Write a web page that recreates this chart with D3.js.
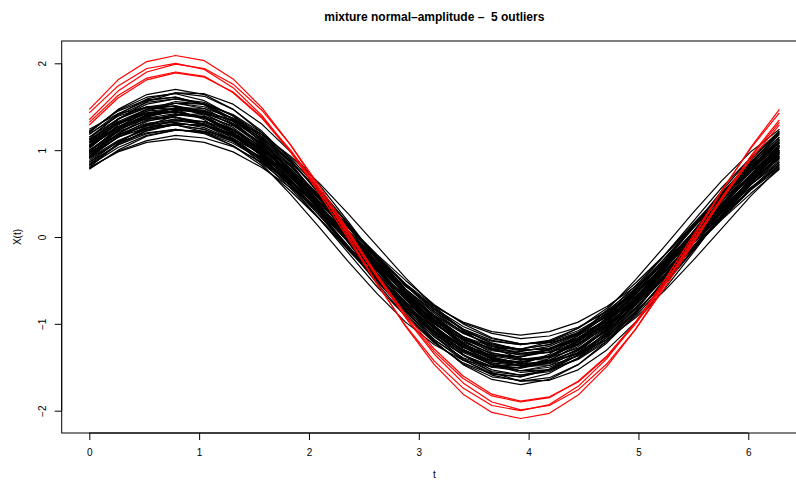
<!DOCTYPE html>
<html>
<head>
<meta charset="utf-8">
<script src="https://cdn.jsdelivr.net/npm/d3@7"></script>
<style>
  html, body { margin: 0; padding: 0; background: #ffffff; }
  svg { display: block; }
  text { font-family: "Liberation Sans", Arial, Helvetica, sans-serif; fill: #000; }
</style>
</head>
<body>
<svg id="chart" width="796" height="480"></svg>
<script>
// Sampling grid (25 points over one period)
const tGrid = [0, 0.2618, 0.5236, 0.7854, 1.0472, 1.3090, 1.5708, 1.8326, 2.0944, 2.3562, 2.6180, 2.8798,
  3.1416, 3.4034, 3.6652, 3.9270, 4.1888, 4.4506, 4.7124, 4.9742, 5.2360, 5.4978, 5.7596, 6.0214, 6.2832];

// Regular curves
const regularCurves = [
  [1.20,1.47,1.64,1.70,1.64,1.47,1.20,0.85,0.44,0,-0.44,-0.85,-1.20,-1.47,-1.64,-1.70,-1.64,-1.47,-1.20,-0.85,-0.44,0,0.44,0.85,1.20],
  [0.80,0.98,1.09,1.13,1.09,0.98,0.80,0.57,0.29,0,-0.29,-0.57,-0.80,-0.98,-1.09,-1.13,-1.09,-0.98,-0.80,-0.57,-0.29,0,0.29,0.57,0.80],
  [1.10,1.36,1.53,1.59,1.55,1.40,1.15,0.83,0.45,0.04,-0.38,-0.76,-1.10,-1.36,-1.53,-1.59,-1.55,-1.40,-1.15,-0.83,-0.45,-0.04,0.38,0.76,1.10],
  [1.22,1.45,1.58,1.61,1.52,1.33,1.05,0.70,0.30,-0.12,-0.53,-0.91,-1.22,-1.45,-1.58,-1.61,-1.52,-1.33,-1.05,-0.70,-0.30,0.12,0.53,0.91,1.22],
  [1.00,1.21,1.34,1.38,1.32,1.18,0.95,0.66,0.32,-0.04,-0.39,-0.72,-1.00,-1.21,-1.34,-1.38,-1.32,-1.18,-0.95,-0.66,-0.32,0.04,0.39,0.72,1.00],
  [0.92,1.15,1.30,1.36,1.33,1.20,1.00,0.73,0.41,0.06,-0.30,-0.63,-0.92,-1.15,-1.30,-1.36,-1.33,-1.20,-1.00,-0.73,-0.41,-0.06,0.30,0.63,0.92],
  [0.98,1.23,1.39,1.46,1.43,1.30,1.08,0.79,0.45,0.07,-0.31,-0.67,-0.98,-1.23,-1.39,-1.46,-1.43,-1.30,-1.08,-0.79,-0.45,-0.07,0.31,0.67,0.98],
  [1.05,1.25,1.36,1.38,1.30,1.14,0.90,0.60,0.25,-0.11,-0.46,-0.78,-1.05,-1.25,-1.36,-1.38,-1.30,-1.14,-0.90,-0.60,-0.25,0.11,0.46,0.78,1.05],
  [0.80,1.08,1.28,1.40,1.42,1.35,1.18,0.93,0.62,0.27,-0.10,-0.47,-0.80,-1.08,-1.28,-1.40,-1.42,-1.35,-1.18,-0.93,-0.62,-0.27,0.10,0.47,0.80],
  [0.95,1.15,1.26,1.29,1.24,1.10,0.88,0.60,0.29,-0.05,-0.38,-0.69,-0.95,-1.15,-1.26,-1.29,-1.24,-1.10,-0.88,-0.60,-0.29,0.05,0.38,0.69,0.95],
  [1.08,1.31,1.45,1.48,1.42,1.26,1.02,0.71,0.34,-0.04,-0.43,-0.78,-1.08,-1.31,-1.45,-1.48,-1.42,-1.26,-1.02,-0.71,-0.34,0.04,0.43,0.78,1.08],
  [0.88,1.10,1.25,1.31,1.28,1.16,0.97,0.71,0.40,0.06,-0.28,-0.60,-0.88,-1.10,-1.25,-1.31,-1.28,-1.16,-0.97,-0.71,-0.40,-0.06,0.28,0.60,0.88],
  [1.15,1.40,1.55,1.59,1.53,1.36,1.10,0.76,0.38,-0.04,-0.45,-0.83,-1.15,-1.40,-1.55,-1.59,-1.53,-1.36,-1.10,-0.76,-0.38,0.04,0.45,0.83,1.15],
  [1.12,1.32,1.43,1.45,1.37,1.19,0.93,0.61,0.25,-0.13,-0.50,-0.84,-1.12,-1.32,-1.43,-1.45,-1.37,-1.19,-0.93,-0.61,-0.25,0.13,0.50,0.84,1.12],
  [1.02,1.29,1.47,1.56,1.53,1.40,1.18,0.88,0.51,0.11,-0.29,-0.68,-1.02,-1.29,-1.47,-1.56,-1.53,-1.40,-1.18,-0.88,-0.51,-0.11,0.29,0.68,1.02],
  [0.90,1.09,1.20,1.24,1.19,1.05,0.85,0.59,0.29,-0.04,-0.35,-0.65,-0.90,-1.09,-1.20,-1.24,-1.19,-1.05,-0.85,-0.59,-0.29,0.04,0.35,0.65,0.90],
  [0.96,1.19,1.35,1.41,1.37,1.24,1.03,0.75,0.41,0.05,-0.32,-0.66,-0.96,-1.19,-1.35,-1.41,-1.37,-1.24,-1.03,-0.75,-0.41,-0.05,0.32,0.66,0.96],
  [1.04,1.26,1.40,1.44,1.38,1.23,0.99,0.69,0.34,-0.04,-0.41,-0.75,-1.04,-1.26,-1.40,-1.44,-1.38,-1.23,-0.99,-0.69,-0.34,0.04,0.41,0.75,1.04],
  [0.93,1.19,1.38,1.46,1.45,1.34,1.14,0.86,0.52,0.15,-0.24,-0.60,-0.93,-1.19,-1.38,-1.46,-1.45,-1.34,-1.14,-0.86,-0.52,-0.15,0.24,0.60,0.93],
  [0.82,1.03,1.17,1.23,1.21,1.10,0.92,0.68,0.39,0.07,-0.25,-0.55,-0.82,-1.03,-1.17,-1.23,-1.21,-1.10,-0.92,-0.68,-0.39,-0.07,0.25,0.55,0.82],
  [1.12,1.36,1.50,1.54,1.48,1.31,1.06,0.73,0.36,-0.04,-0.44,-0.81,-1.12,-1.36,-1.50,-1.54,-1.48,-1.31,-1.06,-0.73,-0.36,0.04,0.44,0.81,1.12],
  [1.08,1.27,1.37,1.38,1.29,1.12,0.87,0.56,0.21,-0.15,-0.50,-0.82,-1.08,-1.27,-1.37,-1.38,-1.29,-1.12,-0.87,-0.56,-0.21,0.15,0.50,0.82,1.08],
  [1.05,1.35,1.56,1.66,1.65,1.53,1.30,0.98,0.60,0.18,-0.26,-0.68,-1.05,-1.35,-1.56,-1.66,-1.65,-1.53,-1.30,-0.98,-0.60,-0.18,0.26,0.68,1.05],
  [0.78,1.00,1.16,1.23,1.22,1.13,0.96,0.73,0.44,0.13,-0.20,-0.50,-0.78,-1.00,-1.16,-1.23,-1.22,-1.13,-0.96,-0.73,-0.44,-0.13,0.20,0.50,0.78],
  [1.00,1.23,1.37,1.42,1.37,1.23,1.01,0.72,0.37,0.01,-0.36,-0.70,-1.00,-1.23,-1.37,-1.42,-1.37,-1.23,-1.01,-0.72,-0.37,-0.01,0.36,0.70,1.00],
  [1.18,1.42,1.57,1.61,1.53,1.36,1.09,0.75,0.35,-0.06,-0.48,-0.86,-1.18,-1.42,-1.57,-1.61,-1.53,-1.36,-1.09,-0.75,-0.35,0.06,0.48,0.86,1.18],
  [0.97,1.18,1.31,1.35,1.30,1.16,0.94,0.66,0.33,-0.02,-0.37,-0.69,-0.97,-1.18,-1.31,-1.35,-1.30,-1.16,-0.94,-0.66,-0.33,0.02,0.37,0.69,0.97],
  [1.05,1.31,1.47,1.54,1.50,1.36,1.13,0.82,0.45,0.06,-0.34,-0.72,-1.05,-1.31,-1.47,-1.54,-1.50,-1.36,-1.13,-0.82,-0.45,-0.06,0.34,0.72,1.05],
  [1.00,1.18,1.28,1.29,1.21,1.05,0.82,0.53,0.21,-0.13,-0.46,-0.75,-1.00,-1.18,-1.28,-1.29,-1.21,-1.05,-0.82,-0.53,-0.21,0.13,0.46,0.75,1.00],
  [0.86,1.10,1.26,1.34,1.33,1.23,1.04,0.78,0.47,0.13,-0.22,-0.56,-0.86,-1.10,-1.26,-1.34,-1.33,-1.23,-1.04,-0.78,-0.47,-0.13,0.22,0.56,0.86],
  [1.15,1.36,1.49,1.51,1.42,1.24,0.98,0.65,0.27,-0.12,-0.51,-0.86,-1.15,-1.36,-1.49,-1.51,-1.42,-1.24,-0.98,-0.65,-0.27,0.12,0.51,0.86,1.15],
  [0.95,1.22,1.40,1.49,1.48,1.37,1.16,0.87,0.53,0.15,-0.24,-0.62,-0.95,-1.22,-1.40,-1.49,-1.48,-1.37,-1.16,-0.87,-0.53,-0.15,0.24,0.62,0.95],
  [0.91,1.11,1.24,1.29,1.24,1.11,0.91,0.64,0.33,0,-0.33,-0.64,-0.91,-1.11,-1.24,-1.29,-1.24,-1.11,-0.91,-0.64,-0.33,0,0.33,0.64,0.91],
  [1.03,1.27,1.43,1.48,1.44,1.30,1.07,0.77,0.41,0.03,-0.36,-0.72,-1.03,-1.27,-1.43,-1.48,-1.44,-1.30,-1.07,-0.77,-0.41,-0.03,0.36,0.72,1.03],
  [1.24,1.42,1.49,1.47,1.35,1.13,0.84,0.49,0.11,-0.28,-0.65,-0.98,-1.24,-1.42,-1.49,-1.47,-1.35,-1.13,-0.84,-0.49,-0.11,0.28,0.65,0.98,1.24],
  [0.86,1.06,1.19,1.24,1.20,1.08,0.89,0.64,0.34,0.02,-0.30,-0.60,-0.86,-1.06,-1.19,-1.24,-1.20,-1.08,-0.89,-0.64,-0.34,-0.02,0.30,0.60,0.86],
  [0.99,1.24,1.41,1.48,1.46,1.33,1.11,0.82,0.47,0.08,-0.30,-0.67,-0.99,-1.24,-1.41,-1.48,-1.46,-1.33,-1.11,-0.82,-0.47,-0.08,0.30,0.67,0.99],
  [1.13,1.41,1.59,1.66,1.62,1.47,1.22,0.89,0.49,0.06,-0.37,-0.78,-1.13,-1.41,-1.59,-1.66,-1.62,-1.47,-1.22,-0.89,-0.49,-0.06,0.37,0.78,1.13],
  [0.84,1.07,1.23,1.30,1.29,1.18,1.00,0.75,0.45,0.11,-0.23,-0.55,-0.84,-1.07,-1.23,-1.30,-1.29,-1.18,-1.00,-0.75,-0.45,-0.11,0.23,0.55,0.84],
  [1.09,1.30,1.42,1.44,1.37,1.20,0.95,0.64,0.28,-0.10,-0.47,-0.81,-1.09,-1.30,-1.42,-1.44,-1.37,-1.20,-0.95,-0.64,-0.28,0.10,0.47,0.81,1.09],
  [0.79,0.99,1.11,1.17,1.14,1.04,0.86,0.63,0.35,0.05,-0.25,-0.54,-0.79,-0.99,-1.11,-1.17,-1.14,-1.04,-0.86,-0.63,-0.35,-0.05,0.25,0.54,0.79],
  [0.83,1.06,1.22,1.30,1.29,1.19,1.01,0.76,0.46,0.13,-0.21,-0.54,-0.83,-1.06,-1.22,-1.30,-1.29,-1.19,-1.01,-0.76,-0.46,-0.13,0.21,0.54,0.83],
  [1.19,1.39,1.50,1.50,1.40,1.21,0.93,0.59,0.21,-0.18,-0.57,-0.91,-1.19,-1.39,-1.50,-1.50,-1.40,-1.21,-0.93,-0.59,-0.21,0.18,0.57,0.91,1.19],
  [1.21,1.46,1.61,1.65,1.57,1.39,1.12,0.77,0.36,-0.06,-0.49,-0.88,-1.21,-1.46,-1.61,-1.65,-1.57,-1.39,-1.12,-0.77,-0.36,0.06,0.49,0.88,1.21],
  [0.91,1.16,1.33,1.41,1.39,1.28,1.08,0.81,0.48,0.12,-0.25,-0.60,-0.91,-1.16,-1.33,-1.41,-1.39,-1.28,-1.08,-0.81,-0.48,-0.12,0.25,0.60,0.91],
  [1.06,1.27,1.40,1.44,1.37,1.21,0.97,0.66,0.31,-0.06,-0.43,-0.77,-1.06,-1.27,-1.40,-1.44,-1.37,-1.21,-0.97,-0.66,-0.31,0.06,0.43,0.77,1.06],
  [0.98,1.26,1.45,1.54,1.53,1.41,1.20,0.91,0.55,0.16,-0.25,-0.64,-0.98,-1.26,-1.45,-1.54,-1.53,-1.41,-1.20,-0.91,-0.55,-0.16,0.25,0.64,0.98],
  [0.97,1.17,1.29,1.32,1.26,1.12,0.90,0.62,0.29,-0.05,-0.39,-0.70,-0.97,-1.17,-1.29,-1.32,-1.26,-1.12,-0.90,-0.62,-0.29,0.05,0.39,0.70,0.97],
  [1.10,1.33,1.47,1.51,1.45,1.29,1.04,0.72,0.35,-0.04,-0.43,-0.79,-1.10,-1.33,-1.47,-1.51,-1.45,-1.29,-1.04,-0.72,-0.35,0.04,0.43,0.79,1.10],
  [0.93,1.15,1.29,1.34,1.30,1.17,0.96,0.69,0.37,0.02,-0.33,-0.65,-0.93,-1.15,-1.29,-1.34,-1.30,-1.17,-0.96,-0.69,-0.37,-0.02,0.33,0.65,0.93]
];

// Amplitude outliers
const outlierCurves = [
  [1.47,1.81,2.02,2.09,2.03,1.82,1.49,1.06,0.56,0.01,-0.53,-1.03,-1.47,-1.81,-2.02,-2.09,-2.03,-1.82,-1.49,-1.06,-0.56,-0.01,0.53,1.03,1.47],
  [1.43,1.74,1.94,2.00,1.93,1.72,1.40,0.98,0.50,-0.02,-0.54,-1.02,-1.43,-1.74,-1.94,-2.00,-1.93,-1.72,-1.40,-0.98,-0.50,0.02,0.54,1.02,1.43],
  [1.35,1.68,1.90,1.99,1.94,1.76,1.46,1.06,0.59,0.08,-0.44,-0.93,-1.35,-1.68,-1.90,-1.99,-1.94,-1.76,-1.46,-1.06,-0.59,-0.08,0.44,0.93,1.35],
  [1.32,1.63,1.83,1.90,1.85,1.66,1.37,0.98,0.53,0.04,-0.46,-0.92,-1.32,-1.63,-1.83,-1.90,-1.85,-1.66,-1.37,-0.98,-0.53,-0.04,0.46,0.92,1.32],
  [1.29,1.60,1.81,1.89,1.84,1.67,1.38,1.00,0.55,0.06,-0.43,-0.89,-1.29,-1.60,-1.81,-1.89,-1.84,-1.67,-1.38,-1.00,-0.55,-0.06,0.43,0.89,1.29]
];

const xTicks = [0, 1, 2, 3, 4, 5, 6];
const yTicks = [-2, -1, 0, 1, 2];
const titleText = "mixture normal\u2013amplitude \u2013  5 outliers";
const xLabel = "t";
const yLabel = "X(t)";

const svg = d3.select("#chart");

// Plot region (extends 4% past the data range on each side, R style)
const xDomain = [-0.2513, 6.5345];
const yDomain = [-2.257, 2.257];
const x = d3.scaleLinear().domain(xDomain).range([61.7, 807]);
const y = d3.scaleLinear().domain(yDomain).range([433, 41]);

const line = d3.line()
  .x((d, i) => x(tGrid[i]))
  .y(d => y(d));

const curves = svg.append("g").attr("fill", "none").attr("stroke-width", 1.2).attr("stroke-linejoin", "round");

curves.selectAll("path.regular")
  .data(regularCurves)
  .join("path")
  .attr("class", "regular")
  .attr("stroke", "#000000")
  .attr("d", line);

curves.selectAll("path.outlier")
  .data(outlierCurves)
  .join("path")
  .attr("class", "outlier")
  .attr("stroke", "#ff0000")
  .attr("d", line);

// Plot box
svg.append("rect")
  .attr("x", x(xDomain[0]))
  .attr("y", y(yDomain[1]))
  .attr("width", x(xDomain[1]) - x(xDomain[0]))
  .attr("height", y(yDomain[0]) - y(yDomain[1]))
  .attr("fill", "none")
  .attr("stroke", "#000")
  .attr("stroke-width", 1);

// Bottom axis
const xAxis = d3.axisBottom(x).tickValues(xTicks).tickFormat(d3.format("d")).tickSize(7).tickPadding(9);
const gx = svg.append("g").attr("transform", `translate(0,${y(yDomain[0])})`).call(xAxis);
gx.select(".domain").attr("d", `M${x(xTicks[0])},0H${x(xTicks[xTicks.length - 1])}`).attr("stroke", "#000");
gx.selectAll(".tick line").attr("stroke", "#000");
gx.selectAll(".tick text")
  .style("font-family", "'Liberation Sans', Arial, sans-serif")
  .style("font-size", "10px")
  .attr("fill", "#000");

// Left axis with rotated labels
const yAxis = d3.axisLeft(y).tickValues(yTicks).tickFormat(d3.format("d")).tickSize(7).tickPadding(0);
const gy = svg.append("g").attr("transform", `translate(${x(xDomain[0])},0)`).call(yAxis);
gy.select(".domain").attr("d", `M0,${y(yTicks[0])}V${y(yTicks[yTicks.length - 1])}`).attr("stroke", "#000");
gy.selectAll(".tick line").attr("stroke", "#000");
gy.selectAll(".tick text")
  .style("font-family", "'Liberation Sans', Arial, sans-serif")
  .style("font-size", "10px")
  .attr("fill", "#000")
  .attr("x", null)
  .attr("dy", null)
  .attr("text-anchor", "middle")
  .attr("transform", "translate(-15.5,0) rotate(-90)");

// Title and axis labels
const midX = (x(xDomain[0]) + x(xDomain[1])) / 2;
svg.append("text")
  .attr("x", midX)
  .attr("y", 21)
  .attr("text-anchor", "middle")
  .style("font-size", "12px")
  .style("font-weight", "bold")
  .style("white-space", "pre")
  .text(titleText);

svg.append("text")
  .attr("x", midX)
  .attr("y", 478)
  .attr("text-anchor", "middle")
  .style("font-size", "10px")
  .text(xLabel);

svg.append("text")
  .attr("transform", `translate(21,${y(0)}) rotate(-90)`)
  .attr("text-anchor", "middle")
  .style("font-size", "10px")
  .text(yLabel);
</script>
</body>
</html>
